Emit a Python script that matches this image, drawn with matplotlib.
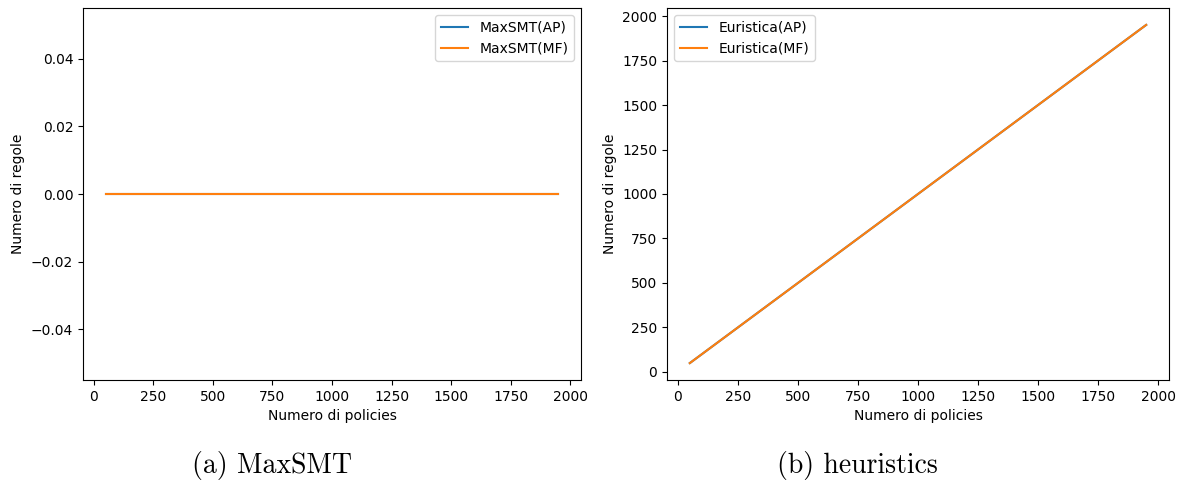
import matplotlib
matplotlib.use('Agg')
import matplotlib.pyplot as plt

# numero di policies
policies = [50, 100, 150, 200, 250, 300, 350, 400, 450, 500, 550, 600, 650,
            700, 750, 800, 850, 900, 950, 1000, 1050, 1100, 1150, 1200, 1250,
            1300, 1350, 1400, 1450, 1500, 1550, 1600, 1650, 1700, 1750, 1800,
            1850, 1900, 1950]

maxsmt_ap = [0] * len(policies)
maxsmt_mf = [0] * len(policies)

euristica_ap = [50, 100, 150, 200, 250, 300, 350, 400, 450, 500, 550, 600, 650,
                700, 750, 800, 850, 900, 950, 1000, 1050, 1100, 1150, 1200, 1250,
                1300, 1350, 1400, 1450, 1500, 1550, 1600, 1650, 1700, 1750, 1800,
                1850, 1900, 1950]
euristica_mf = [50, 100, 150, 200, 250, 300, 350, 400, 450, 500, 550, 600, 650,
                700, 750, 800, 850, 900, 950, 1000, 1050, 1100, 1150, 1200, 1250,
                1300, 1350, 1400, 1450, 1500, 1550, 1600, 1650, 1700, 1750, 1800,
                1850, 1900, 1950]

plt.rcParams['font.size'] = 10

W, H = 1184, 482
fig = plt.figure(figsize=(W / 100, H / 100), dpi=100)

ax1 = fig.add_axes([83 / W, 1 - 380 / H, (581 - 83) / W, (380 - 8) / H])
ax1.plot(policies, maxsmt_ap, label='MaxSMT(AP)')
ax1.plot(policies, maxsmt_mf, label='MaxSMT(MF)')
ax1.set_xlabel('Numero di policies')
ax1.set_ylabel('Numero di regole')
ax1.legend(loc='upper right')

ax2 = fig.add_axes([667 / W, 1 - 380 / H, (1169 - 667) / W, (380 - 8) / H])
ax2.plot(policies, euristica_ap, label='Euristica(AP)')
ax2.plot(policies, euristica_mf, label='Euristica(MF)')
ax2.set_xlabel('Numero di policies')
ax2.set_ylabel('Numero di regole')
ax2.legend(loc='upper left')

fig.text(272 / W, 1 - 465 / H, '(a) MaxSMT', family='cmr10', fontsize=20,
         ha='center', va='center')
fig.text(857 / W, 1 - 465 / H, '(b) heuristics', family='cmr10', fontsize=20,
         ha='center', va='center')

fig.savefig('out.png', dpi=100)
